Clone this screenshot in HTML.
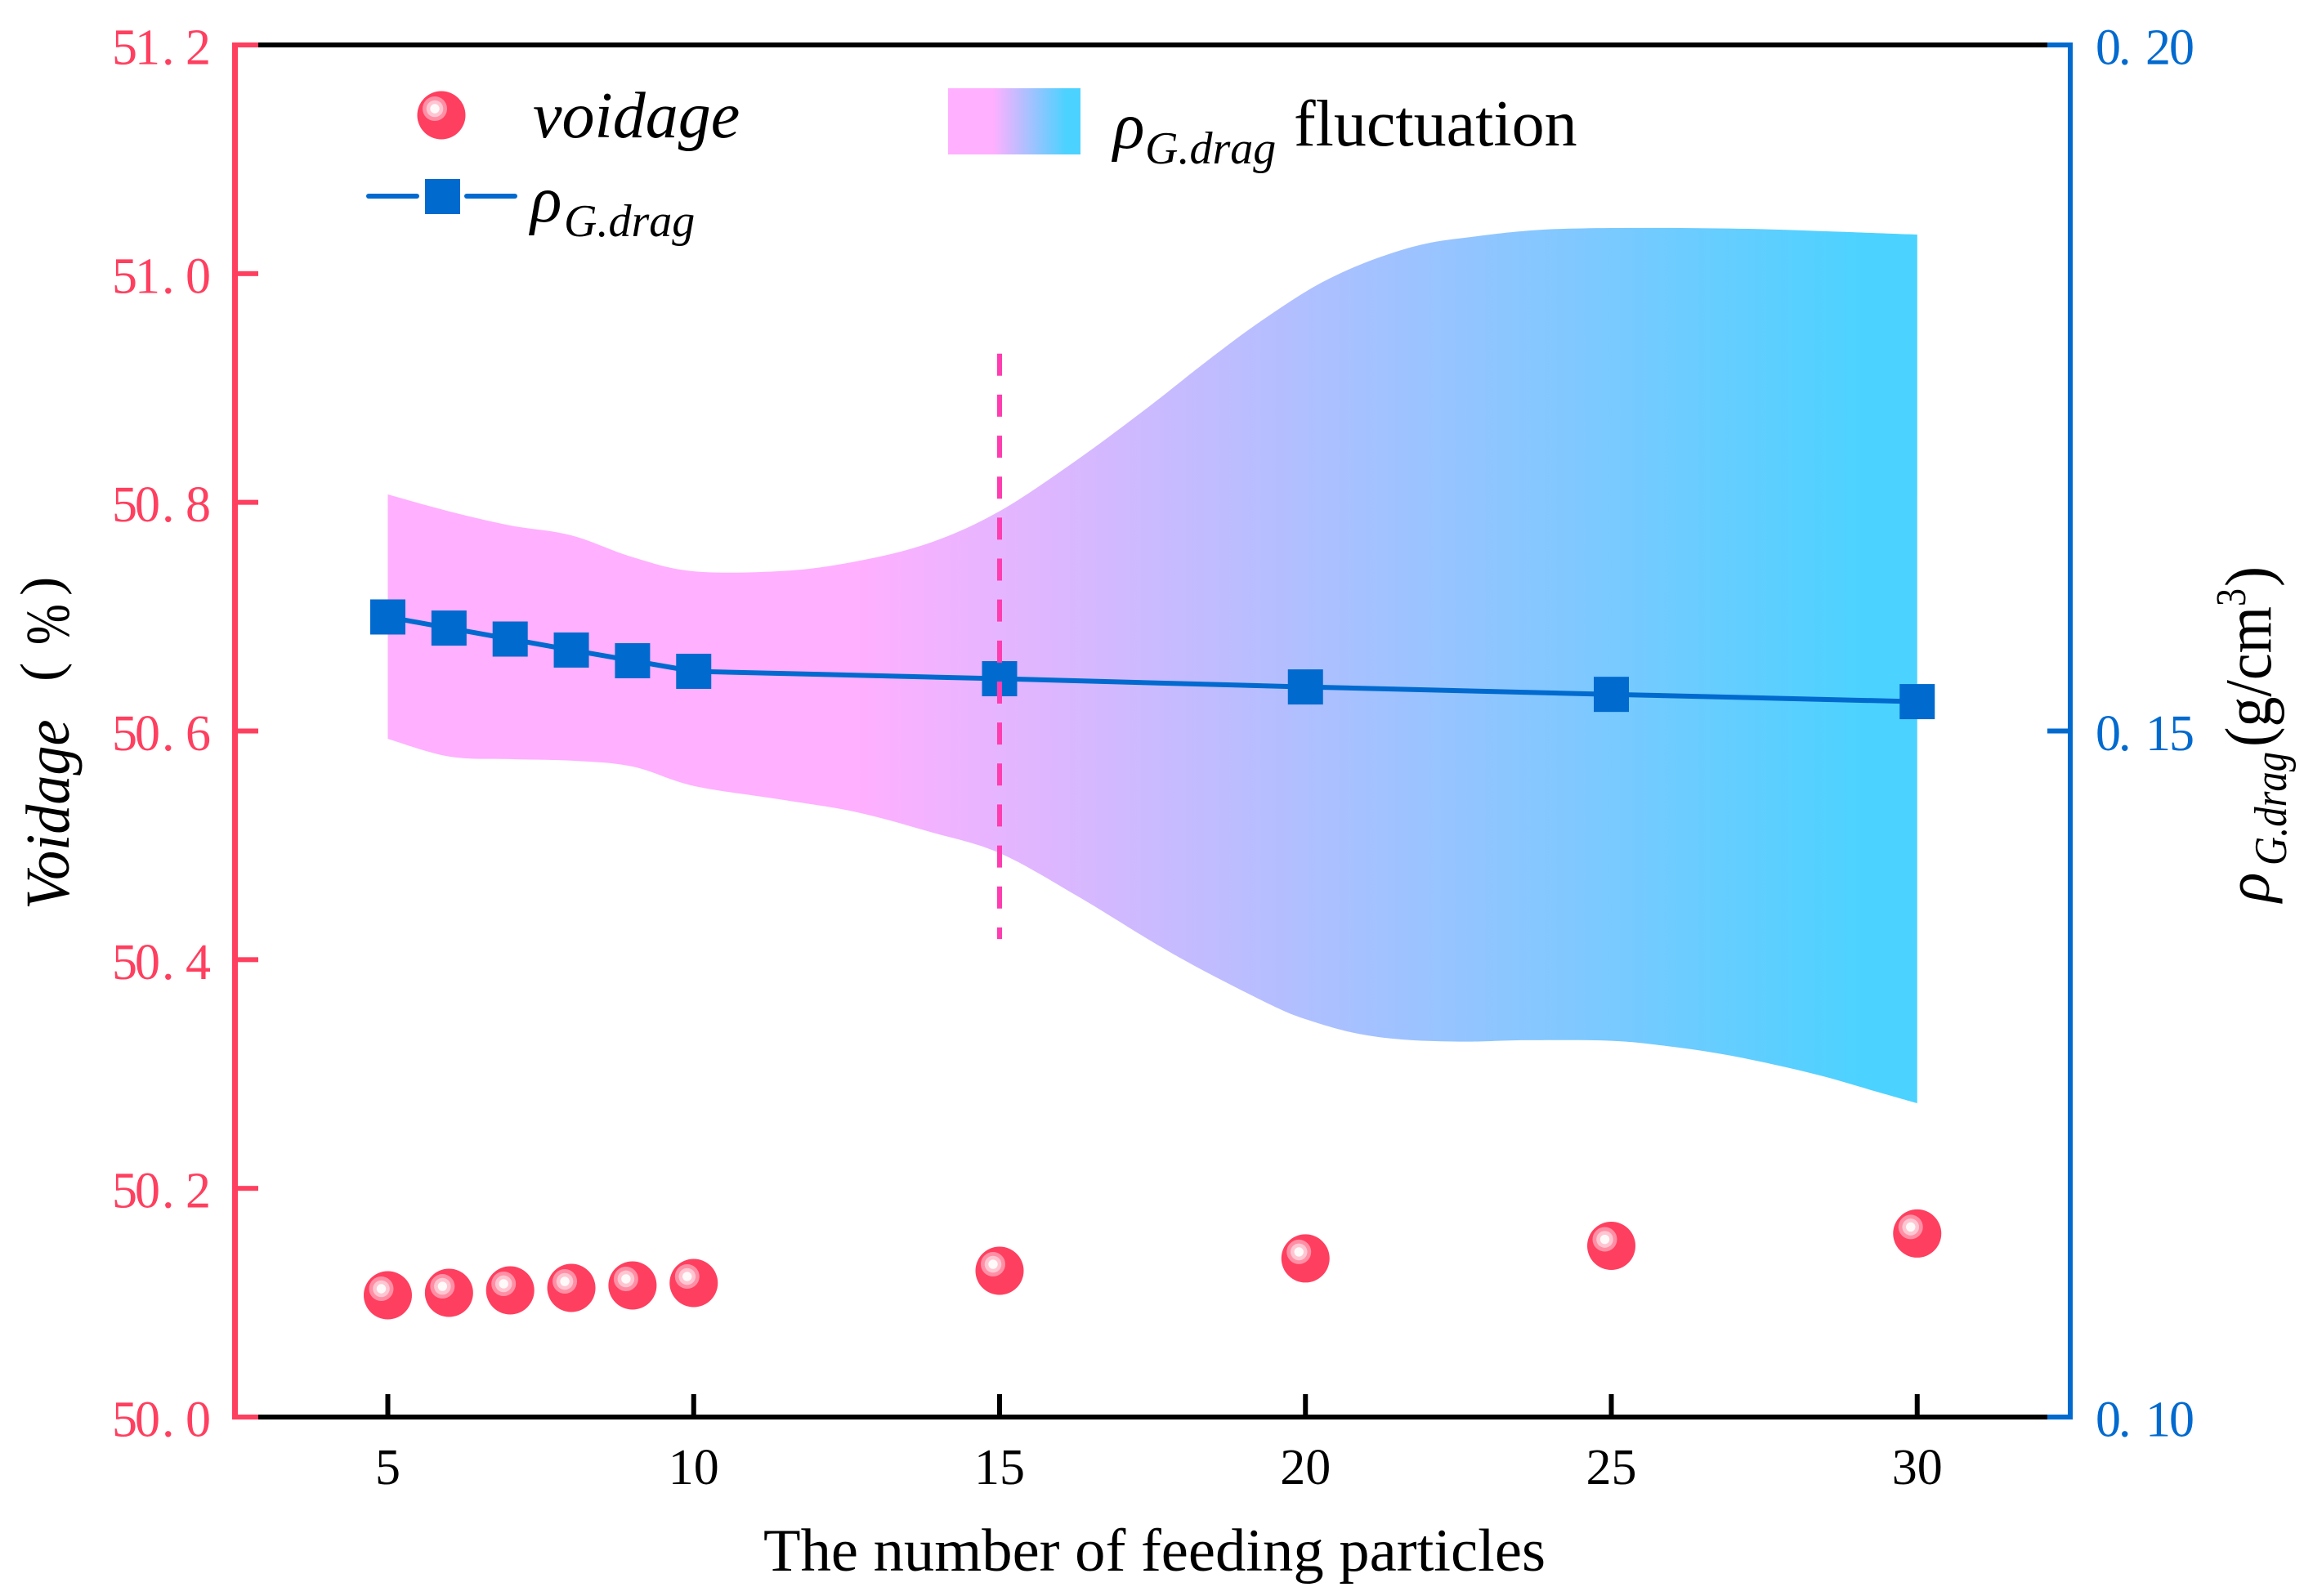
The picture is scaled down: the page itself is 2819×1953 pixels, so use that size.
<!DOCTYPE html>
<html lang="en">
<head>
<meta charset="utf-8">
<title>Voidage and drag density versus feeding particles</title>
<style>
html,body{margin:0;padding:0;background:#fff;}
svg{display:block;font-family:"Liberation Serif","Noto Serif CJK SC",serif;}
</style>
</head>
<body>
<svg id="chart" xmlns="http://www.w3.org/2000/svg" width="2819" height="1953" viewBox="0 0 2819 1953">
  <defs>
    <linearGradient id="bandGrad" gradientUnits="userSpaceOnUse" x1="1050" y1="0" x2="2280" y2="0">
      <stop offset="0" stop-color="#FFB0FF"/><stop offset="1" stop-color="#4CD2FF"/>
    </linearGradient>
    <linearGradient id="legendGrad" gradientUnits="userSpaceOnUse" x1="1215" y1="0" x2="1304" y2="0">
      <stop offset="0" stop-color="#FFB0FF"/><stop offset="1" stop-color="#4CD2FF"/>
    </linearGradient>
  </defs>
  <rect x="0" y="0" width="2819" height="1953" fill="#fff"/>
  <g id="plot"></g>
  <g id="axes"></g>

  <text x="934" y="1922" font-size="74" textLength="957" lengthAdjust="spacingAndGlyphs">The number of feeding particles</text>

  <g fill="#000">
    <text transform="translate(84 1113) rotate(-90) scale(0.95 1)" font-size="76" font-style="italic">Voidage</text>
    <text transform="translate(73 834) rotate(-90)" font-size="70">(</text>
    <text transform="translate(84 789) rotate(-90)" font-size="76" textLength="50" lengthAdjust="spacingAndGlyphs">%</text>
    <text transform="translate(73 729) rotate(-90)" font-size="70">)</text>
  </g>

  <g fill="#000">
    <text transform="translate(2776 1104) rotate(-90)" font-size="76" font-style="italic">ρ</text>
    <text transform="translate(2797 1059) rotate(-90)" font-size="56" font-style="italic" textLength="139" lengthAdjust="spacingAndGlyphs">G.drag</text>
    <text transform="translate(2778 914) rotate(-90)" font-size="80" textLength="172" lengthAdjust="spacingAndGlyphs">(g/cm</text>
    <text transform="translate(2747 742) rotate(-90)" font-size="52" textLength="22" lengthAdjust="spacingAndGlyphs">3</text>
    <text transform="translate(2778 718) rotate(-90)" font-size="80" textLength="25" lengthAdjust="spacingAndGlyphs">)</text>
  </g>

  <g>
    <g>
      <circle cx="540" cy="141" r="29.5" fill="#FF3F5F"/>
      <circle cx="532" cy="133" r="15" fill="#FF8FA5"/>
      <circle cx="532" cy="133" r="10.3" fill="#FFC6D2"/>
      <circle cx="532" cy="133" r="5.7" fill="#FFFAFA"/>
      <text x="652" y="168" font-size="80" font-style="italic">voidage</text>
    </g>
    <g>
      <line x1="451" y1="240" x2="510" y2="240" stroke="#006ACF" stroke-width="6" stroke-linecap="round"/>
      <line x1="571" y1="240" x2="630" y2="240" stroke="#006ACF" stroke-width="6" stroke-linecap="round"/>
      <rect x="520" y="219" width="43" height="43" fill="#006ACF"/>
      <text x="649" y="271" font-size="80" font-style="italic">ρ</text>
      <text x="690" y="289" font-size="56" font-style="italic">G.drag</text>
    </g>
    <g>
      <rect x="1160" y="108" width="162" height="81" fill="url(#legendGrad)"/>
      <text x="1362" y="181" font-size="80" font-style="italic">ρ</text>
      <text x="1401" y="200" font-size="56" font-style="italic">G.drag</text>
      <text x="1583" y="178" font-size="80">fluctuation</text>
    </g>
  </g>
</svg>
<script>
// ---- data ----
const categories = [5, 6, 7, 8, 9, 10, 15, 20, 25, 30];
const voidageValues = [50.1065, 50.1086, 50.1108, 50.1129, 50.1151, 50.1172, 50.1279, 50.1387, 50.1497, 50.1605];
const rhoValues = [0.15831, 0.1575, 0.1567, 0.1559, 0.15512, 0.15435, 0.15381, 0.15321, 0.15267, 0.15214];

const bandUpperX = [5, 6, 7, 8, 9, 10, 11.48, 12.68, 13.87, 15, 16.26, 17.45, 18.3, 19.1, 20, 20.7, 21.4, 22.05, 22.8, 23.45, 24.1, 25, 26.15, 27.4, 28.7, 30];
const bandUpperValues = [0.16724, 0.16601, 0.16498, 0.16426, 0.16267, 0.16164, 0.16167, 0.16238, 0.16373, 0.16602, 0.16974, 0.17367, 0.17665, 0.17933, 0.18201, 0.18362, 0.18481, 0.18559, 0.18606, 0.18639, 0.18658, 0.18666, 0.18666, 0.18658, 0.18639, 0.18618];
const bandLowerX = [5, 6, 7, 8, 9, 10, 11.48, 12.68, 13.87, 15, 16.26, 17.37, 18, 18.65, 19.5, 20, 20.8, 21.6, 22.6, 23.6, 25, 25.9, 26.75, 27.6, 28.45, 29.3, 30];
const bandLowerValues = [0.14943, 0.14814, 0.14795, 0.14784, 0.14741, 0.146, 0.14497, 0.14407, 0.14264, 0.1411, 0.138, 0.13498, 0.13335, 0.1318, 0.1299, 0.129, 0.12799, 0.12751, 0.12736, 0.12746, 0.12742, 0.12704, 0.1265, 0.12575, 0.12485, 0.12376, 0.12287];

const xTickLabels = ['5', '10', '15', '20', '25', '30'];
const leftTickLabels = ['50.0', '50.2', '50.4', '50.6', '50.8', '51.0', '51.2'];
const rightTickLabels = ['0.10', '0.15', '0.20'];

const dividerCategory = 15;
const dividerRange = [50.418, 50.93];

// ---- axis functions ----
const PINK = '#FF3F5F', BLUE = '#006ACF';
const xAxis = v => 474.5 + (v - 5) * 74.85;
const yLeft = v => 1734 - (v - 50) * 1399.17;
const yRight = v => 1734 - (v - 0.1) * 16790;

const NS = 'http://www.w3.org/2000/svg';
const plot = document.getElementById('plot');
const axes = document.getElementById('axes');
function make(tag, attrs, parent) {
  const el = document.createElementNS(NS, tag);
  for (const k in attrs) el.setAttribute(k, attrs[k]);
  parent.appendChild(el);
  return el;
}
function smooth(points) {
  let d = '';
  for (let i = 0; i < points.length - 1; i++) {
    const p0 = points[Math.max(i - 1, 0)], p1 = points[i], p2 = points[i + 1], p3 = points[Math.min(i + 2, points.length - 1)];
    const c1x = p1[0] + (p2[0] - p0[0]) / 6, c1y = p1[1] + (p2[1] - p0[1]) / 6;
    const c2x = p2[0] - (p3[0] - p1[0]) / 6, c2y = p2[1] - (p3[1] - p1[1]) / 6;
    d += 'C' + c1x.toFixed(1) + ' ' + c1y.toFixed(1) + ' ' + c2x.toFixed(1) + ' ' + c2y.toFixed(1) + ' ' + p2[0].toFixed(1) + ' ' + p2[1].toFixed(1);
  }
  return d;
}
const charOffsets = [0, 28, 61, 90];
function spacedLabel(label, x0, y, fill, parent) {
  const t = make('text', { y: y, 'font-size': 62, fill: fill }, parent);
  t.setAttribute('x', label.split('').map((c, i) => x0 + charOffsets[i]).join(' '));
  t.textContent = label;
  return t;
}

// ---- fluctuation band ----
const upperPts = bandUpperX.map((v, i) => [xAxis(v), yRight(bandUpperValues[i])]);
const lowerPts = bandLowerX.map((v, i) => [xAxis(v), yRight(bandLowerValues[i])]).reverse();
const band = make('path', {
  d: 'M' + upperPts[0][0] + ' ' + upperPts[0][1] + smooth(upperPts) + 'L' + lowerPts[0][0] + ' ' + lowerPts[0][1] + smooth(lowerPts) + 'Z',
  fill: 'url(#bandGrad)'
}, plot);



// ---- rho line and markers ----
const rhoLine = make('polyline', {
  points: categories.map((c, i) => xAxis(c).toFixed(1) + ',' + yRight(rhoValues[i]).toFixed(1)).join(' '),
  fill: 'none', stroke: BLUE, 'stroke-width': 6
}, plot);


categories.forEach((c, i) => {
  const sq = make('rect', { x: xAxis(c) - 21.5, y: yRight(rhoValues[i]) - 21.5, width: 43, height: 43, fill: BLUE }, plot);
  
  
});

// ---- voidage markers ----
categories.forEach((c, i) => {
  const cx = xAxis(c), cy = yLeft(voidageValues[i]);
  const g = make('g', {}, plot);
  
  
  make('circle', { cx: cx, cy: cy, r: 29.5, fill: PINK }, g);
  make('circle', { cx: cx - 8, cy: cy - 8, r: 15, fill: '#FF8FA5' }, g);
  make('circle', { cx: cx - 8, cy: cy - 8, r: 10.3, fill: '#FFC6D2' }, g);
  make('circle', { cx: cx - 8, cy: cy - 8, r: 5.7, fill: '#FFFAFA' }, g);
});

// ---- dashed divider ----
const divider = make('line', {
  x1: xAxis(dividerCategory), x2: xAxis(dividerCategory),
  y1: yLeft(dividerRange[1]), y2: yLeft(dividerRange[0]),
  stroke: '#FF3DB0', 'stroke-width': 6, 'stroke-dasharray': '27 23.15'
}, plot);



// ---- frame ----
const topBlack = make('rect', { x: 316, y: 52, width: 2189, height: 6, fill: '#000' }, axes);


const bottomBlack = make('rect', { x: 316, y: 1731, width: 2189, height: 6, fill: '#000' }, axes);


const leftSpine = make('rect', { x: 284, y: 52, width: 7, height: 1685, fill: PINK }, axes);


const rightSpine = make('rect', { x: 2530, y: 52, width: 6, height: 1685, fill: BLUE }, axes);



// ---- x ticks ----
xTickLabels.forEach(label => {
  const x = xAxis(Number(label));
  const tick = make('rect', { x: x - 3, y: 1706, width: 6, height: 26, fill: '#000' }, axes);
  
  
  const t = make('text', { x: x, y: 1816, 'font-size': 62, 'text-anchor': 'middle', fill: '#000' }, axes);
  
  
  t.textContent = label;
});

// ---- left ticks ----
leftTickLabels.forEach(label => {
  const y = yLeft(Number(label));
  const tick = make('rect', { x: 288, y: y - 3, width: 28, height: 6, fill: PINK }, axes);
  
  
  const t = spacedLabel(label, 137, y + 23.5, PINK, axes);
  
  
});

// ---- right ticks ----
rightTickLabels.forEach(label => {
  const y = yRight(Number(label));
  const tick = make('rect', { x: 2505, y: y - 3, width: 27, height: 6, fill: BLUE }, axes);
  
  
  const t = spacedLabel(label, 2564, y + 23.5, BLUE, axes);
  
  
});
</script>
</body>
</html>
